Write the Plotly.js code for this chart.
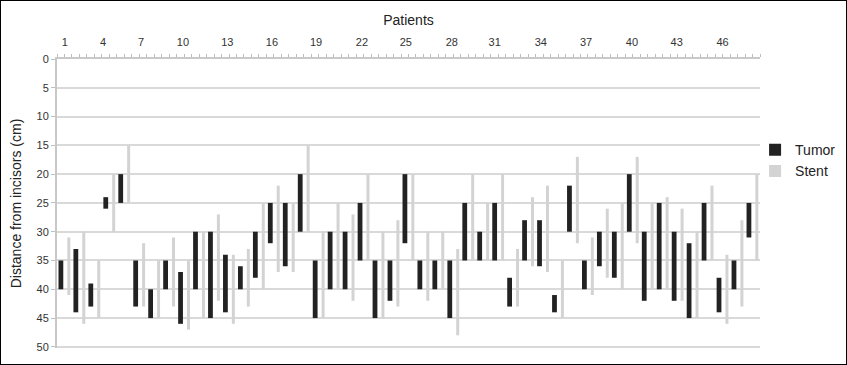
<!DOCTYPE html>
<html>
<head>
<meta charset="utf-8">
<script src="https://cdn.plot.ly/plotly-3.0.1.min.js"></script>
<style>
  html, body { margin: 0; padding: 0; background: #fff; }
  #frame { width: 845px; height: 363px; border: 1px solid #000; overflow: hidden; }
  #chart { width: 845px; height: 363px; }
</style>
</head>
<body>
<div id="frame"><div id="chart"></div></div>
<script>
// ---- data ----
const patients = [1,2,3,4,5,6,7,8,9,10,11,12,13,14,15,16,17,18,19,20,21,22,23,24,25,26,27,28,29,30,31,32,33,34,35,36,37,38,39,40,41,42,43,44,45,46,47];
const tumorStart = [35,33,39,24,20,35,40,35,37,30,30,34,36,30,25,25,20,35,30,30,25,35,35,20,35,35,35,25,30,25,38,28,28,41,22,35,30,30,20,30,25,30,32,25,38,35,25];
const tumorEnd   = [40,44,43,26,25,43,45,40,46,40,45,44,40,38,32,36,30,45,40,40,35,45,42,32,40,40,45,35,35,35,43,35,36,44,30,40,36,38,30,42,40,42,45,35,44,40,31];
const stentStart = [31,30,35,20,15,32,35,31,35,30,27,34,33,25,22,25,15,30,25,27,20,30,28,20,30,30,33,20,25,20,33,24,22,35,17,31,26,25,17,25,24,26,30,22,34,28,20];
const stentEnd   = [41,46,45,30,25,43,45,43,47,45,42,46,43,40,37,37,30,45,40,42,35,45,43,35,42,40,48,35,35,35,43,36,37,45,32,41,38,40,32,40,40,42,45,35,46,43,35];
const xTickLabels = ['1','4','7','10','13','16','19','22','25','28','31','34','37','40','43','46'];
const yTickVals = [0,5,10,15,20,25,30,35,40,45,50];

// label placement along the top axis (as in the original figure)
const xTickPos = [1.03,3.58,6.12,8.92,11.89,14.87,17.82,20.89,23.82,26.9,29.76,32.85,35.87,38.94,41.93,45.0];

const tumorLen = tumorEnd.map((v, i) => v - tumorStart[i]);
const stentLen = stentEnd.map((v, i) => v - stentStart[i]);

const font = 'Liberation Sans, Arial, sans-serif';

const traces = [
  {
    type: 'bar', name: 'Tumor', x: patients, y: tumorLen, base: tumorStart,
    width: 0.32, offset: -0.40,
    marker: { color: '#222222', line: { width: 0 } },
    hoverinfo: 'skip'
  },
  {
    type: 'bar', name: 'Stent', x: patients, y: stentLen, base: stentStart,
    width: 0.2, offset: 0.19,
    marker: { color: '#d3d3d3', line: { width: 0 } },
    hoverinfo: 'skip'
  }
];

const layout = {
  width: 845, height: 363,
  margin: { l: 56, r: 86, t: 58, b: 16, pad: 0, autoexpand: false },
  paper_bgcolor: '#fff', plot_bgcolor: '#fff',
  font: { family: font, color: '#333', size: 11 },
  barmode: 'overlay',
  showlegend: true,
  legend: {
    x: 0.993, y: 0.74, xanchor: 'left', yanchor: 'top',
    font: { family: font, size: 14, color: '#222' },
    itemwidth: 30, tracegroupgap: 0, bgcolor: 'rgba(0,0,0,0)'
  },
  xaxis: {
    side: 'top',
    range: [0.5, 47.5],
    tickmode: 'array', tickvals: xTickPos, ticktext: xTickLabels,
    ticks: 'outside', ticklen: 7, tickcolor: 'rgba(0,0,0,0)',
    tickfont: { family: font, size: 11, color: '#333' },
    minor: { tickmode: 'linear', tick0: 0.5, dtick: 0.5, ticks: 'outside', ticklen: 3, tickwidth: 1, tickcolor: '#bdbdbd', showgrid: false },
    showgrid: false, zeroline: false,
    showline: true, linecolor: '#c8c8c8', linewidth: 2,
    title: { text: 'Patients', font: { family: font, size: 14, color: '#222' }, standoff: 7 },
    automargin: false, fixedrange: true
  },
  yaxis: {
    range: [50.2, 0],
    tickmode: 'array', tickvals: yTickVals,
    ticks: 'outside', ticklen: 4, tickwidth: 1, tickcolor: '#c0c0c0',
    tickfont: { family: font, size: 11, color: '#333' },
    showgrid: true, gridcolor: '#d9d9d9', gridwidth: 2,
    zeroline: false,
    showline: true, linecolor: '#c8c8c8', linewidth: 2,
    title: { text: 'Distance from incisors (cm)', font: { family: font, size: 14, color: '#222' }, standoff: 12 },
    automargin: false, fixedrange: true
  }
};

Plotly.newPlot('chart', traces, layout, { displayModeBar: false, staticPlot: true });
</script>
</body>
</html>
